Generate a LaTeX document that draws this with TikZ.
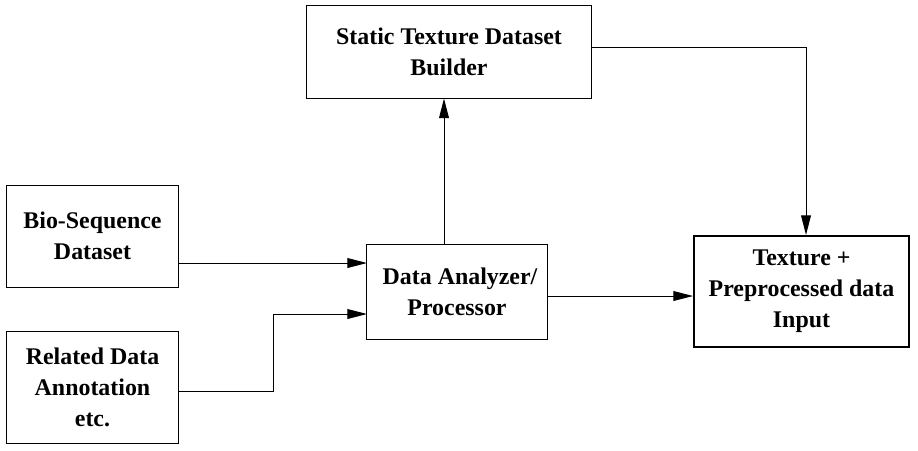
\documentclass[tikz,border=0pt]{standalone}
\usepackage{fontspec}
\setmainfont{Liberation Serif}
\usetikzlibrary{arrows.meta}

\begin{document}
\begin{tikzpicture}[x=0.025cm,y=-0.025cm,
    block/.style={draw, line width=0.7pt, align=center, inner sep=0pt,
        font=\fontsize{17}{22}\selectfont\bfseries},
    flow/.style={line width=0.7pt, -{Triangle[length=14pt,width=7pt]}}]

    \useasboundingbox (0,0) rectangle (918,450);

    %draw boxes:
    \node[block, minimum width=4.275cm, minimum height=2.55cm] (bio) at (92.5,236)
        {Bio-Sequence\\Dataset};
    \node[block, minimum width=4.275cm, minimum height=2.8cm] (rel) at (92.5,387)
        {Related Data\\Annotation\\etc.};
    \node[block, minimum width=7.1cm, minimum height=2.325cm] (stb) at (449,51.5)
        {Static Texture Dataset\\Builder};
    \node[block, minimum width=4.5cm, minimum height=2.375cm] (dap) at (457,291.5)
        {\ Data Analyzer/\\Processor};
    \node[block, line width=1.4pt, minimum width=5.375cm, minimum height=2.775cm] (tex) at (801.5,291.5)
        {Texture +\\Preprocessed data\\Input};

    %ports:
    \coordinate (in1) at (367,263);
    \coordinate (in2) at (367,314);
    \coordinate (up) at (444,244);
    \coordinate (out) at (547,296);
    \coordinate (bend) at (806,47);
    \coordinate (step) at (273,391);

    %draw arrows:
    \draw[flow] (bio.east |- in1) -- (in1);
    \draw[flow] (rel.east |- step) -- (step) |- (in2);
    \draw[flow] (up) -- (up |- stb.south);
    \draw[flow] (out) -- (tex.west |- out);
    \draw[flow] (stb.east |- bend) -- (bend) -- (bend |- tex.north);

\end{tikzpicture}
\end{document}
